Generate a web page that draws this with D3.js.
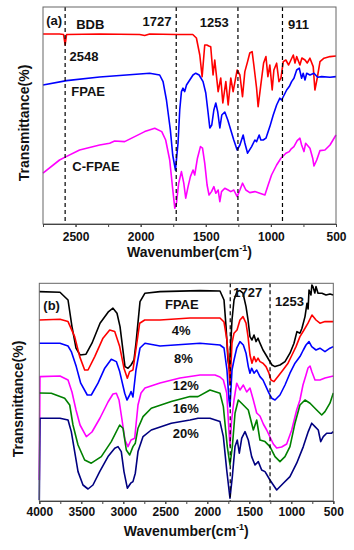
<!DOCTYPE html>
<html>
<head>
<meta charset="utf-8">
<script src="https://cdn.jsdelivr.net/npm/d3@7"></script>
<style>
  body { margin: 0; background: #fff; }
  svg text { font-family: Arial, "Liberation Sans", sans-serif; font-weight: bold; }
</style>
</head>
<body>
<div id="chart"></div>
<script>
// ---- data: [wavenumber (cm-1), transmittance (a.u.)] ----
// panel (a)
var bdb = [[2750,95],[2623,95],[2592,94.75],[2580,89.5],[2569,94.75],[2315,95],[2008,94.75],[1969,94.25],[1931,95],[1731,94.75],[1600,94.75],[1572,93],[1546,84.5],[1528,73.6],[1508,89.5],[1492,89.5],[1477,89],[1462,88.6],[1444,74.5],[1431,82],[1405,66.2],[1385,73],[1369,60.5],[1346,71.2],[1328,59.5],[1308,73],[1290,66.2],[1259,77],[1238,74.5],[1218,63.7],[1200,76.2],[1179,81.2],[1162,85.5],[1144,86.2],[1131,79.5],[1110,68],[1098,58.7],[1079,68.7],[1056,80.5],[1038,83.7],[1023,73.7],[1008,79.5],[990,67],[977,77],[956,80.4],[938,71.2],[923,72.9],[905,81.2],[885,82],[864,79.5],[846,82],[828,84.5],[815,80.5],[802,83.7],[777,79.5],[762,83],[738,82],[721,80.5],[700,82.9],[675,78.7],[662,67],[644,73],[623,81.2],[592,82.9],[546,83.7],[500,84]];
var fpaeA = [[2750,69.5],[2569,71.7],[2315,73.5],[2008,75],[1931,75.4],[1854,74.5],[1828,71.2],[1802,62],[1772,47],[1754,34.5],[1733,26.9],[1713,40.5],[1700,57],[1687,66.2],[1675,67.9],[1662,66.2],[1648,69.5],[1623,72],[1598,74.5],[1577,75.4],[1551,74.5],[1521,71.2],[1500,65.5],[1482,55.5],[1469,48],[1454,49.5],[1438,57],[1423,60.5],[1408,56],[1392,48],[1377,54.5],[1354,56],[1331,52],[1308,47],[1285,42],[1259,37],[1238,39.5],[1213,44.5],[1200,40.5],[1179,35.4],[1148,38.7],[1123,42],[1110,41.2],[1090,44.5],[1077,42],[1059,42],[1038,42.9],[1008,48.7],[982,54.5],[956,59.5],[931,62.9],[918,62],[898,64.5],[879,67],[859,68.7],[841,71.2],[823,72.9],[802,77],[782,77.9],[764,72.9],[752,75.4],[738,72],[725,75.4],[700,74.5],[669,75.4],[641,73.4],[610,73.7],[546,73.4],[500,73.7]];
var cfpae = [[2750,25.4],[2623,32],[2572,33.7],[2469,37],[2315,39.5],[2238,40.4],[2200,41.5],[2123,41.2],[2046,43.7],[1969,46.2],[1892,47.9],[1838,46.2],[1808,42],[1777,32],[1756,18.7],[1738,7.9],[1725,10.5],[1708,20.4],[1687,26.2],[1669,20.4],[1654,12.9],[1636,18.7],[1618,23.7],[1598,27],[1585,24.5],[1564,32.9],[1541,38.7],[1525,37.9],[1508,30.4],[1490,19.5],[1475,14.5],[1456,16.2],[1438,18.7],[1423,15.4],[1405,17],[1392,11.2],[1379,16.2],[1354,17.9],[1328,17],[1308,16.2],[1285,17],[1259,13.7],[1238,17],[1218,20.4],[1192,17],[1162,15.7],[1123,16.2],[1085,15.4],[1046,14.5],[1021,19.5],[995,24.5],[956,29.5],[923,32.9],[885,35.4],[859,36.2],[846,37.4],[823,38.7],[798,41.7],[777,42.9],[764,39.5],[746,36.2],[733,40.4],[700,37.9],[679,32.9],[669,29],[648,32],[623,36.7],[585,37],[546,39.5],[500,44.5]];

// panel (b)
var fpaeB = [[4000,104.7],[3754,104.4],[3658,100.5],[3611,87.2],[3563,76.4],[3515,73],[3444,73.4],[3373,78.9],[3277,88.9],[3175,94.7],[3123,96.4],[3075,93.9],[3039,87.2],[2980,67.2],[2944,66.4],[2908,68],[2873,70.5],[2849,78.9],[2801,99.7],[2742,103.9],[2563,104.7],[2087,105.2],[1849,105],[1801,100.5],[1777,87.2],[1754,70.5],[1736,66.5],[1706,90.5],[1682,100.5],[1646,104.7],[1611,105.2],[1575,103.9],[1539,97.2],[1515,90.5],[1492,82.2],[1468,80.5],[1444,83],[1420,79.7],[1396,81.4],[1373,78.9],[1337,75.5],[1301,73],[1266,70.5],[1230,68],[1194,67.2],[1135,68],[1075,69.7],[1016,73.9],[968,78.9],[933,84.7],[897,83.9],[873,86.4],[837,92.2],[813,98.9],[800,96],[789,105.5],[766,103],[755,108],[742,107.2],[720,104],[706,107.2],[682,103.9],[635,103.9],[587,103],[540,103.5],[500,103]];
var p4 = [[4000,90.5],[3754,90.9],[3658,89.7],[3579,82.2],[3519,72.2],[3460,65.5],[3420,65.5],[3340,72.2],[3242,81.4],[3162,85.5],[3102,84.7],[3043,77.2],[2992,66.4],[2952,61.4],[2924,64.7],[2885,65.5],[2845,77.2],[2805,88.9],[2745,90.5],[2563,90.5],[2206,91.5],[1849,91.5],[1801,89.5],[1766,80.5],[1742,65.5],[1730,58],[1706,79],[1682,83.9],[1646,85.5],[1611,90.5],[1575,92.2],[1539,88.9],[1515,82.2],[1492,73],[1468,68.9],[1444,72.2],[1420,69.7],[1396,71.4],[1373,69.7],[1337,68.9],[1301,67.2],[1266,63.9],[1242,60.5],[1206,59.7],[1159,62.2],[1099,65.5],[1039,68.9],[992,73],[944,77.2],[897,82.2],[849,85.5],[801,88.9],[754,93],[706,90.5],[659,88.9],[599,89.7],[500,89.7]];
var p8 = [[4000,78.9],[3754,78.9],[3658,77.5],[3619,74.7],[3560,67.2],[3507,58.9],[3429,53],[3381,53],[3301,58.9],[3221,66.4],[3143,70.9],[3083,69.7],[3043,64.7],[2983,53.9],[2956,50.5],[2924,53],[2908,54.7],[2885,52],[2849,65.5],[2801,76.5],[2742,78.9],[2563,77.5],[2087,78.9],[1849,78],[1801,76.5],[1766,65.5],[1742,50.5],[1730,47],[1706,65.5],[1682,70.5],[1650,76.4],[1611,79.7],[1571,78],[1539,73.9],[1512,67.2],[1492,63.9],[1472,66.4],[1444,63.9],[1412,65.5],[1373,62.2],[1337,60.5],[1301,57.2],[1266,53.9],[1233,51.4],[1194,50.5],[1135,53],[1075,58],[1016,63.9],[956,68.9],[897,72.2],[857,75.5],[825,78],[789,79.7],[757,77.2],[706,75.5],[659,76.4],[599,74.7],[540,76.4],[500,77.2]];
var p12 = [[4000,10.5],[3992,62.2],[3754,62.5],[3658,60.5],[3611,54.5],[3563,45.5],[3515,38],[3440,32.2],[3373,34.5],[3277,41.5],[3182,49.5],[3123,53.5],[3083,53.9],[3051,50.5],[3015,40.5],[2980,30.5],[2944,27.2],[2908,30.5],[2864,31.4],[2849,38],[2825,48],[2789,54],[2742,56.5],[2563,59],[2325,61.5],[2087,63],[1908,63],[1849,62],[1809,60.5],[1769,54],[1742,35],[1730,27.5],[1710,40.5],[1682,50.5],[1650,58.9],[1611,55.5],[1571,58],[1531,54.5],[1492,56.5],[1452,50.5],[1412,44],[1373,42.5],[1333,38.5],[1293,35.5],[1254,32],[1214,28.5],[1174,26.5],[1115,27],[1055,28.5],[995,35.5],[936,45.5],[897,50.5],[861,58],[825,63],[801,66.5],[777,67.5],[754,64.5],[718,60.5],[659,60.5],[599,61.5],[500,62.5]];
var p16 = [[4000,54],[3857,53.9],[3698,51.4],[3638,48],[3599,38],[3539,28],[3460,20.5],[3381,18.9],[3262,22.2],[3143,29.7],[3043,38],[3004,36.4],[2964,25.5],[2924,23],[2885,27.2],[2857,28.9],[2825,36.4],[2765,42.2],[2667,46.4],[2429,49.7],[2206,52.2],[2111,52.2],[1968,55.5],[1849,53.9],[1809,47.2],[1762,27.2],[1730,18],[1702,27.2],[1670,43.9],[1631,50.5],[1571,48],[1512,45.5],[1452,35.5],[1412,40.5],[1373,30.5],[1313,29.7],[1254,27.2],[1194,22.2],[1135,19.7],[1075,22.2],[1016,27.2],[956,38.9],[897,48],[837,50.5],[777,48.9],[698,45.5],[638,43],[599,44.7],[540,48.9],[500,54]];
var p20 = [[4000,0.5],[3992,41.4],[3754,41.4],[3658,40.5],[3619,34.7],[3579,24.7],[3539,14.7],[3480,8],[3420,6],[3361,8],[3281,14.7],[3182,22.2],[3102,26.4],[3063,27.2],[3024,24.7],[2992,14.7],[2952,6.4],[2912,8.9],[2885,9.7],[2857,13.9],[2825,24.7],[2765,32.2],[2667,35.5],[2429,38.9],[2206,40.5],[2111,41.4],[1968,41.4],[1849,39.7],[1809,32.2],[1769,15.5],[1730,1.4],[1702,12.2],[1670,27.2],[1643,30.5],[1619,23.9],[1590,31.4],[1551,34.7],[1512,30.5],[1472,22.2],[1432,18],[1393,19.7],[1353,15.5],[1313,14.7],[1254,10.5],[1174,5.5],[1095,8.9],[1016,12.2],[936,18.9],[857,27.2],[798,34.7],[757,38.9],[718,37.2],[679,35.5],[650,29.7],[619,32.2],[579,33.9],[520,33.9],[500,34.7]];

// tick values and marker lines
var ticksA = [2500, 2000, 1500, 1000, 500];
var ticksB = [4000, 3500, 3000, 2500, 2000, 1500, 1000, 500];
var peaksA = [2580, 1727, 1253, 911];
var peaksB = [1727, 1253];

// labels: [text, wavenumber, transmittance]
var labelsA = [["(a)",2725,99.5],["BDB",2495,97.5],["1727",1985,99],["1253",1546,98.75],["911",869,97.5],["2548",2546,81.5],["FPAE",2533,64],["C-FPAE",2525,26.6]];
var labelsB = [["(b)",3952,95.5],["FPAE",2504,95.8],["4%",2424,83],["8%",2396,69.2],["12%",2412,55.5],["16%",2412,44.2],["20%",2412,31.6],["1727",1690,101.8],["1253",1194,97.5]];

var svg = d3.select("#chart").append("svg")
    .attr("width", 354)
    .attr("height", 550);

function panel(opt) {
    var x = d3.scaleLinear().domain(opt.xDomain).range([opt.left, opt.right]);
    var y = d3.scaleLinear().domain([0, opt.yMax]).range([opt.bottom, opt.top]);
    var g = svg.append("g");

    var line = d3.line()
        .x(function(d) { return x(d[0]); })
        .y(function(d) { return y(d[1]); });

    // curves
    opt.series.forEach(function(s) {
        g.append("path")
            .datum(s.data)
            .attr("d", line)
            .attr("fill", "none")
            .attr("stroke", s.color)
            .attr("stroke-width", 1.6)
            .attr("stroke-linejoin", "round");
    });

    // dashed marker lines
    g.selectAll(null)
        .data(opt.peaks)
        .enter()
        .append("line")
            .attr("x1", function(d) { return x(d); })
            .attr("x2", function(d) { return x(d); })
            .attr("y1", opt.top)
            .attr("y2", opt.bottom)
            .attr("stroke", "#000")
            .attr("stroke-width", 1.2)
            .style("stroke-dasharray", "4,3");

    // frame
    g.append("rect")
        .attr("x", opt.left)
        .attr("y", opt.top)
        .attr("width", opt.right - opt.left)
        .attr("height", opt.bottom - opt.top)
        .attr("fill", "none")
        .attr("stroke", "#666")
        .attr("stroke-width", 1);

    // x axis: labelled majors + minor ticks
    var minor = d3.range(opt.xDomain[1], opt.xDomain[0] + 1, 250);
    g.append("g")
        .attr("transform", "translate(0," + opt.bottom + ")")
        .call(d3.axisBottom(x).tickValues(minor).tickSize(3).tickFormat(""))
        .call(function(a) {
            a.select(".domain").remove();
            a.selectAll("line").attr("stroke", "#444");
        });
    var ax = g.append("g")
        .attr("transform", "translate(0," + opt.bottom + ")")
        .call(d3.axisBottom(x).tickValues(opt.ticks).tickSize(3).tickPadding(opt.pad)
            .tickFormat(d3.format("d")));
    ax.select(".domain").attr("stroke", "#444");
    ax.selectAll("line").attr("stroke", "#444");
    ax.selectAll("text")
        .attr("font-size", "12px")
        .attr("font-weight", "bold")
        .attr("fill", "#111");

    // axis titles
    var t = g.append("text")
        .attr("x", (opt.left + opt.right) / 2)
        .attr("y", opt.titleY)
        .attr("text-anchor", "middle")
        .attr("font-size", "14px")
        .attr("font-weight", "bold")
        .attr("fill", "#111");
    t.append("tspan").text("Wavenumber(cm");
    t.append("tspan").text("-1").attr("font-size", "9px").attr("dy", -6);
    t.append("tspan").text(")").attr("dy", 6);

    g.append("text")
        .attr("transform", "translate(" + opt.yTitleX + "," + opt.yTitleY + ") rotate(-90)")
        .attr("text-anchor", "middle")
        .attr("font-size", "14px")
        .attr("font-weight", "bold")
        .attr("fill", "#111")
        .text("Transmittance(%)");

    // annotations
    g.selectAll(null)
        .data(opt.labels)
        .enter()
        .append("text")
            .attr("x", function(d) { return x(d[1]); })
            .attr("y", function(d) { return y(d[2]); })
            .attr("font-size", "13px")
            .attr("font-weight", "bold")
            .attr("fill", "#111")
            .text(function(d) { return d[0]; });
}

panel({
    xDomain: [2750, 500], yMax: 108.5,
    left: 43, right: 336, top: 7, bottom: 224,
    ticks: ticksA, pad: 5, titleY: 257,
    yTitleX: 29, yTitleY: 123,
    peaks: peaksA, labels: labelsA,
    series: [
        {data: bdb, color: "#ff0000"},
        {data: fpaeA, color: "#0000ff"},
        {data: cfpae, color: "#ff00ff"}
    ]
});

panel({
    xDomain: [4000, 500], yMax: 108.85,
    left: 39.3, right: 333.3, top: 283.3, bottom: 501,
    ticks: ticksB, pad: 3, titleY: 536,
    yTitleX: 23, yTitleY: 399,
    peaks: peaksB, labels: labelsB,
    series: [
        {data: fpaeB, color: "#000000"},
        {data: p4, color: "#ff0000"},
        {data: p8, color: "#0000ff"},
        {data: p12, color: "#ff00ff"},
        {data: p16, color: "#008000"},
        {data: p20, color: "#000080"}
    ]
});
</script>
</body>
</html>
